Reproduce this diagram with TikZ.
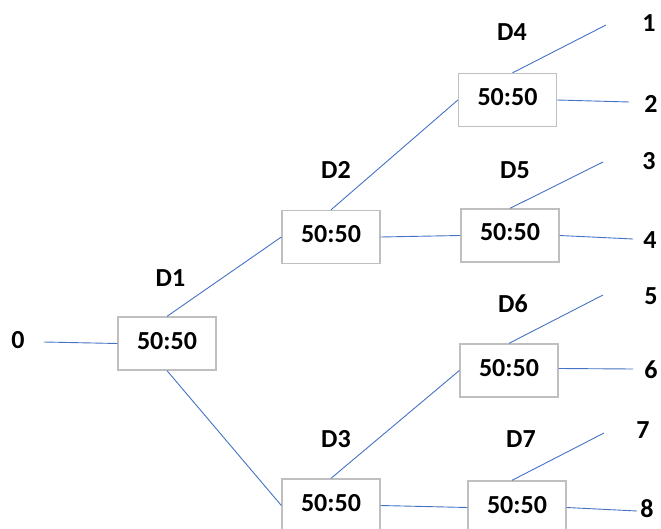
\documentclass[tikz,border=0pt]{standalone}
\usepackage{fontspec}
\setmainfont{Carlito}
\definecolor{linkblue}{HTML}{4472C4}
\definecolor{boxgray}{HTML}{BFBFBF}
\tikzset{
  ratiobox/.style={draw=boxgray, line width=1.3pt, fill=white, minimum width=98pt, minimum height=53pt,
    inner sep=0pt, text height=17pt, text depth=6pt, font=\fontsize{26}{31}\selectfont\bfseries},
  lbl/.style={inner sep=0pt, text height=16.4pt, text depth=0pt, font=\fontsize{26}{31}\selectfont\bfseries},
  link/.style={draw=linkblue, line width=0.9pt}
}
\newcommand{\ratio}{50:50\hspace{8pt}}
\begin{document}
\begin{tikzpicture}[x=1pt, y=-1pt]
\useasboundingbox (0,0) rectangle (661,529);
% boxes
\node[ratiobox] (D1) at (167,343.5) {\ratio};
\node[ratiobox] (D2) at (331,237) {\ratio};
\node[ratiobox] (D3) at (331,505.5) {\ratio};
\node[ratiobox] (D4) at (507.5,100) {\ratio};
\node[ratiobox] (D5) at (510,235.5) {\ratio};
\node[ratiobox] (D6) at (509,370.5) {\ratio};
\node[ratiobox] (D7) at (517,507.5) {\ratio};
% labels
\node[lbl] (l0) at (18,340) {0};
\node[lbl] (lD1) at (170.5,278) {D1};
\node[lbl] (lD2) at (336,170) {D2};
\node[lbl] (lD3) at (336,439) {D3};
\node[lbl] (lD4) at (512,32) {D4};
\node[lbl] (lD5) at (515,170) {D5};
\node[lbl] (lD6) at (513,304) {D6};
\node[lbl] (lD7) at (521,439.5) {D7};
\node[lbl] (o1) at (649,23) {1};
\node[lbl] (o2) at (651,104.5) {2};
\node[lbl] (o3) at (649,161) {3};
\node[lbl] (o4) at (650,240) {4};
\node[lbl] (o5) at (651,296) {5};
\node[lbl] (o6) at (651,370) {6};
\node[lbl] (o7) at (643,430) {7};
\node[lbl] (o8) at (647,509.5) {8};
% free ends
\coordinate (e0) at (44,342);
\coordinate (e1) at (606,25);
\coordinate (e2) at (629,102);
\coordinate (e3) at (603,162);
\coordinate (e4) at (633,239);
\coordinate (e5) at (603,295);
\coordinate (e6) at (633,369);
\coordinate (e7) at (604,433);
\coordinate (e8) at (637,511);
% connectors
\draw[link] (e0) -- (D1.west);
\draw[link] (D1.north) -- (D2.west);
\draw[link] (D1.south) -- (D3.west);
\draw[link] (D2.north) -- (D4.west);
\draw[link] (D2.east) -- (D5.west);
\draw[link] (D3.north) -- (D6.west);
\draw[link] (D3.east) -- (D7.west);
\draw[link] ([xshift=5pt]D4.north) -- (e1);
\draw[link] (D4.east) -- (e2);
\draw[link] (D5.north) -- (e3);
\draw[link] (D5.east) -- (e4);
\draw[link] (D6.north) -- (e5);
\draw[link] ([yshift=2pt]D6.east) -- (e6);
\draw[link] ([xshift=-5pt]D7.north) -- (e7);
\draw[link] (D7.east) -- (e8);
\end{tikzpicture}
\end{document}
